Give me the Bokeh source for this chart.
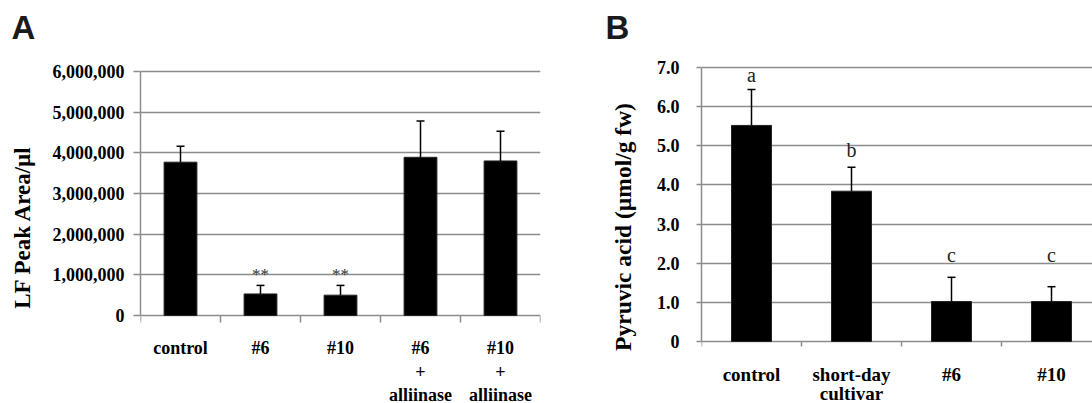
from bokeh.plotting import figure
from bokeh.layouts import row
from bokeh.models import (Range1d, FixedTicker, LinearAxis, NumeralTickFormatter,
                          PrintfTickFormatter)
from bokeh.core.properties import value
from bokeh.embed import file_html
from bokeh.resources import INLINE

# ---- Panel A data ----
catsA = ["control", "#6", "#10", "#6\n+\nalliinase", "#10\n+\nalliinase"]
meanA = [3.77e6, 0.53e6, 0.50e6, 3.89e6, 3.80e6]
errA = [0.39e6, 0.21e6, 0.24e6, 0.89e6, 0.73e6]
sigA = ["", "**", "**", "", ""]
sigA_y = [0, 1.02e6, 1.02e6, 0, 0]
ticksA = [0, 1e6, 2e6, 3e6, 4e6, 5e6, 6e6]
ylabelA = "LF Peak Area/µl"

# ---- Panel B data ----
catsB = ["control", "short-day\ncultivar", "#6", "#10"]
meanB = [5.52, 3.84, 1.02, 1.02]
errB = [0.92, 0.61, 0.62, 0.38]
letB = ["a", "b", "c", "c"]
letB_y = [6.82, 4.90, 2.22, 2.22]
ticksB = [0, 1, 2, 3, 4, 5, 6, 7]
ylabelB = "Pyruvic acid (µmol/g fw)"

GRID = "#8c8c8c"
SERIF = "Liberation Serif"
H = 403
FRAME_TOP = 50            # shared frame top (row-aligned); frame runs to the bottom


def base_fig(width, left, right, xr, yr):
    p = figure(width=width, height=H, x_range=xr, y_range=yr,
               output_backend="svg", toolbar_location=None,
               min_border_left=left, min_border_right=right,
               min_border_top=FRAME_TOP, min_border_bottom=0)
    p.outline_line_color = None
    p.xgrid.visible = False
    p.xaxis.visible = False
    p.ygrid.grid_line_color = GRID
    p.ygrid.grid_line_width = 1.5
    y = p.yaxis[0]
    y.major_label_text_font = SERIF
    y.major_label_text_font_style = "bold"
    y.major_label_text_color = "black"
    y.major_label_text_font_size = "18px"
    y.axis_line_color = GRID
    y.axis_line_width = 1.5
    y.major_tick_line_color = GRID
    y.major_tick_line_width = 1.5
    y.major_tick_in = 0
    y.minor_tick_line_color = None
    p.title.text_font = "Liberation Sans"
    p.title.text_font_style = "bold"
    p.title.text_font_size = "33px"
    p.title.text_color = "#1a1a1a"
    p.title.align = "left"
    p.title.standoff = 10
    return p


def cat_text(p, xs, cats, px, offsets, size):
    lx, ly, lt = [], [], []
    for x, c in zip(xs, cats):
        for k, line in enumerate(c.split("\n")):
            lx.append(x)
            ly.append(-offsets[k] / px)
            lt.append(line)
    p.text(x=lx, y=ly, text=lt, text_align="center", text_baseline="alphabetic",
           text_font=value(SERIF), text_font_style="bold", text_font_size=size,
           text_color="black")


def separators(p, n, px, length):
    s = list(range(n + 1))
    p.segment(x0=s, y0=[0] * len(s), x1=s, y1=[-length / px] * len(s),
              line_color=GRID, line_width=1.5)


# ---- Figure A (0 at y=315, 6,000,000 at y=71 on the page) ----
nA = len(catsA)
xA = [i + 0.5 for i in range(nA)]
topA = [m + e for m, e in zip(meanA, errA)]
pxA = (315 - 71) / 6e6
yrA = Range1d(-(H - 315) / pxA, 6e6 + (71 - FRAME_TOP) / pxA)
pA = base_fig(568, 140, 28, Range1d(0, nA), yrA)
pA.title.text = "A"
pA.title.offset = -129
ya = pA.yaxis[0]
ya.ticker = FixedTicker(ticks=ticksA)
ya.bounds = (0, 6e6)
ya.formatter = NumeralTickFormatter(format="0,0")
ya.major_tick_out = 7
ya.major_label_standoff = 9
lab = LinearAxis(ticker=FixedTicker(ticks=[]), bounds=(0.59e6, 6e6),
                 axis_line_color=None, major_tick_line_color=None,
                 minor_tick_line_color=None, major_label_text_font_size="0px",
                 axis_label=ylabelA, axis_label_text_font=SERIF,
                 axis_label_text_font_style="bold", axis_label_text_font_size="23px",
                 axis_label_text_color="black", axis_label_standoff=15)
pA.add_layout(lab, "left")

separators(pA, nA, pxA, 7)
pA.vbar(x=xA, top=meanA, bottom=0, width=0.41, fill_color="black", line_color="#222222")
pA.segment(x0=xA, y0=meanA, x1=xA, y1=topA, line_color="black", line_width=1.5)
pA.segment(x0=[x - 0.05 for x in xA], y0=topA, x1=[x + 0.05 for x in xA], y1=topA,
           line_color="black", line_width=1.5)
pA.text(x=xA, y=sigA_y, text=sigA, text_align="center", text_baseline="middle",
        text_font=value(SERIF), text_font_size="17px", text_color="#333333")
cat_text(pA, xA, catsA, pxA, [32, 55.5, 79], "18px")

# ---- Figure B (0 at y=341, 7.0 at y=67) ----
nB = len(catsB)
xB = [i + 0.5 for i in range(nB)]
topB = [m + e for m, e in zip(meanB, errB)]
pxB = (341 - 67) / 7
yrB = Range1d(-(H - 341) / pxB, 7 + (67 - FRAME_TOP) / pxB)
pB = base_fig(524, 133, 0, Range1d(0, 3.91), yrB)
pB.title.text = "B"
pB.title.offset = -96
yb = pB.yaxis[0]
yb.ticker = FixedTicker(ticks=ticksB)
yb.bounds = (0, 7)
yb.formatter = PrintfTickFormatter(format="%.1f")
yb.major_label_overrides = {0: "0"}
yb.major_tick_out = 5
yb.major_label_standoff = 17
yb.axis_label = ylabelB
yb.axis_label_text_font = SERIF
yb.axis_label_text_font_style = "bold"
yb.axis_label_text_font_size = "23.5px"
yb.axis_label_text_color = "black"
yb.axis_label_standoff = 18

separators(pB, nB, pxB, 5)
pB.vbar(x=xB, top=meanB, bottom=0, width=0.40, fill_color="black", line_color="#222222")
pB.segment(x0=xB, y0=meanB, x1=xB, y1=topB, line_color="black", line_width=1.5)
pB.segment(x0=[x - 0.04 for x in xB], y0=topB, x1=[x + 0.04 for x in xB], y1=topB,
           line_color="black", line_width=1.5)
pB.text(x=xB, y=letB_y, text=letB, text_align="center", text_baseline="middle",
        text_font=value(SERIF), text_font_size="20px", text_color="#222222")
cat_text(pB, xB, catsB, pxB, [33, 52], "19px")

layout = row(pA, pB)
open("out.html", "w").write(file_html(layout, INLINE))
